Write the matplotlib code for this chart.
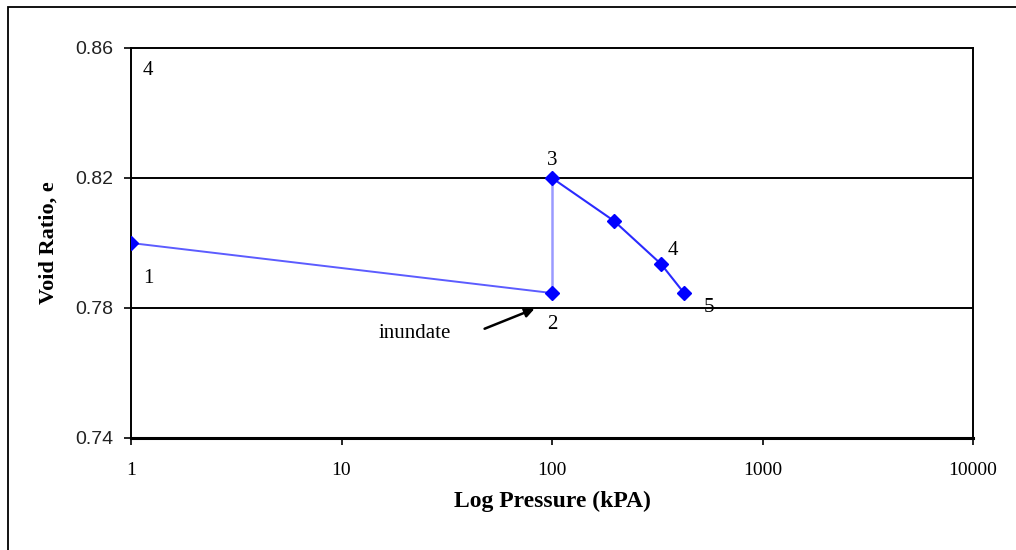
import matplotlib
matplotlib.use("Agg")
import matplotlib.pyplot as plt
from matplotlib.patches import Rectangle

plt.rcParams['font.family'] = ['Liberation Serif', 'DejaVu Serif']

# Data
load_p = [1, 100]
load_e = [0.800, 0.7846]
inund_p = [100, 100]
inund_e = [0.7846, 0.820]
comp_p = [100, 197, 330, 424]
comp_e = [0.820, 0.8068, 0.7935, 0.7846]

point_labels = ["4", "1", "3", "2", "4", "5"]
label_pos = [(1.205, 0.8532), (1.205, 0.7892), (100, 0.8255), (100, 0.7748), (376, 0.7978), (557, 0.7803)]

yticks = [0.74, 0.78, 0.82, 0.86]
ytick_labels = ["0.74", "0.78", "0.82", "0.86"]
xticks = [1, 10, 100, 1000, 10000]
xtick_labels = ["1", "10", "100", "1000", "10000"]

W, H = 1016, 550
fig = plt.figure(figsize=(W / 100, H / 100), dpi=100)
fig.patch.set_facecolor('white')

# Outer frame (partially cut off at right/bottom)
fig.add_artist(Rectangle((8 / W, -0.05), 1.1, (H - 7) / H + 0.05, transform=fig.transFigure,
                         fill=False, edgecolor='black', linewidth=1.3))

ax = fig.add_axes([131 / W, (H - 438) / H, (973 - 131) / W, (438 - 48) / H])
ax.set_xscale('log')
ax.set_xlim(1, 10000)
ax.set_ylim(0.74, 0.86)

for y in [0.78, 0.82]:
    ax.axhline(y, color='black', linewidth=1.4, zorder=1)

ax.plot(load_p, load_e, color='#5c5cff', linewidth=1.4, zorder=2)
ax.plot(inund_p, inund_e, color='#9a9aff', linewidth=1.8, zorder=2)
ax.plot(comp_p, comp_e, color='#2a2aff', linewidth=1.5, zorder=2)
ax.plot(load_p + comp_p, load_e + comp_e, linestyle='none', marker='D', markersize=7.5,
        color='#0000ff', zorder=3)

for t, (x, y) in zip(point_labels, label_pos):
    ax.text(x, y, t, fontsize=15, ha='center', va='center')

ax.text(22.3, 0.7723, "inundate", fontsize=15, ha='center', va='center')
ax.annotate("", xy=(85, 0.7801), xytext=(46.5, 0.7733),
            arrowprops=dict(arrowstyle='-|>', color='black', lw=1.8, mutation_scale=14))

ax.set_xticks(xticks)
ax.set_xticklabels(xtick_labels)
ax.xaxis.set_minor_locator(matplotlib.ticker.NullLocator())
ax.set_yticks(yticks)
ax.set_yticklabels(ytick_labels, family=['Liberation Sans', 'DejaVu Sans'], color='#222222')
ax.tick_params(axis='both', direction='out', length=5, width=1.2)
ax.tick_params(axis='y', labelsize=14, pad=8)
ax.tick_params(axis='x', labelsize=14, pad=12)
for s in ax.spines.values():
    s.set_linewidth(1.4)
ax.spines['bottom'].set_linewidth(2.2)

ax.set_xlabel("Log Pressure (kPA)", fontsize=17, fontweight='bold', labelpad=9)
ax.set_ylabel("Void Ratio, e", fontsize=16, fontweight='bold', labelpad=12)

fig.savefig("out.png", dpi=100)
